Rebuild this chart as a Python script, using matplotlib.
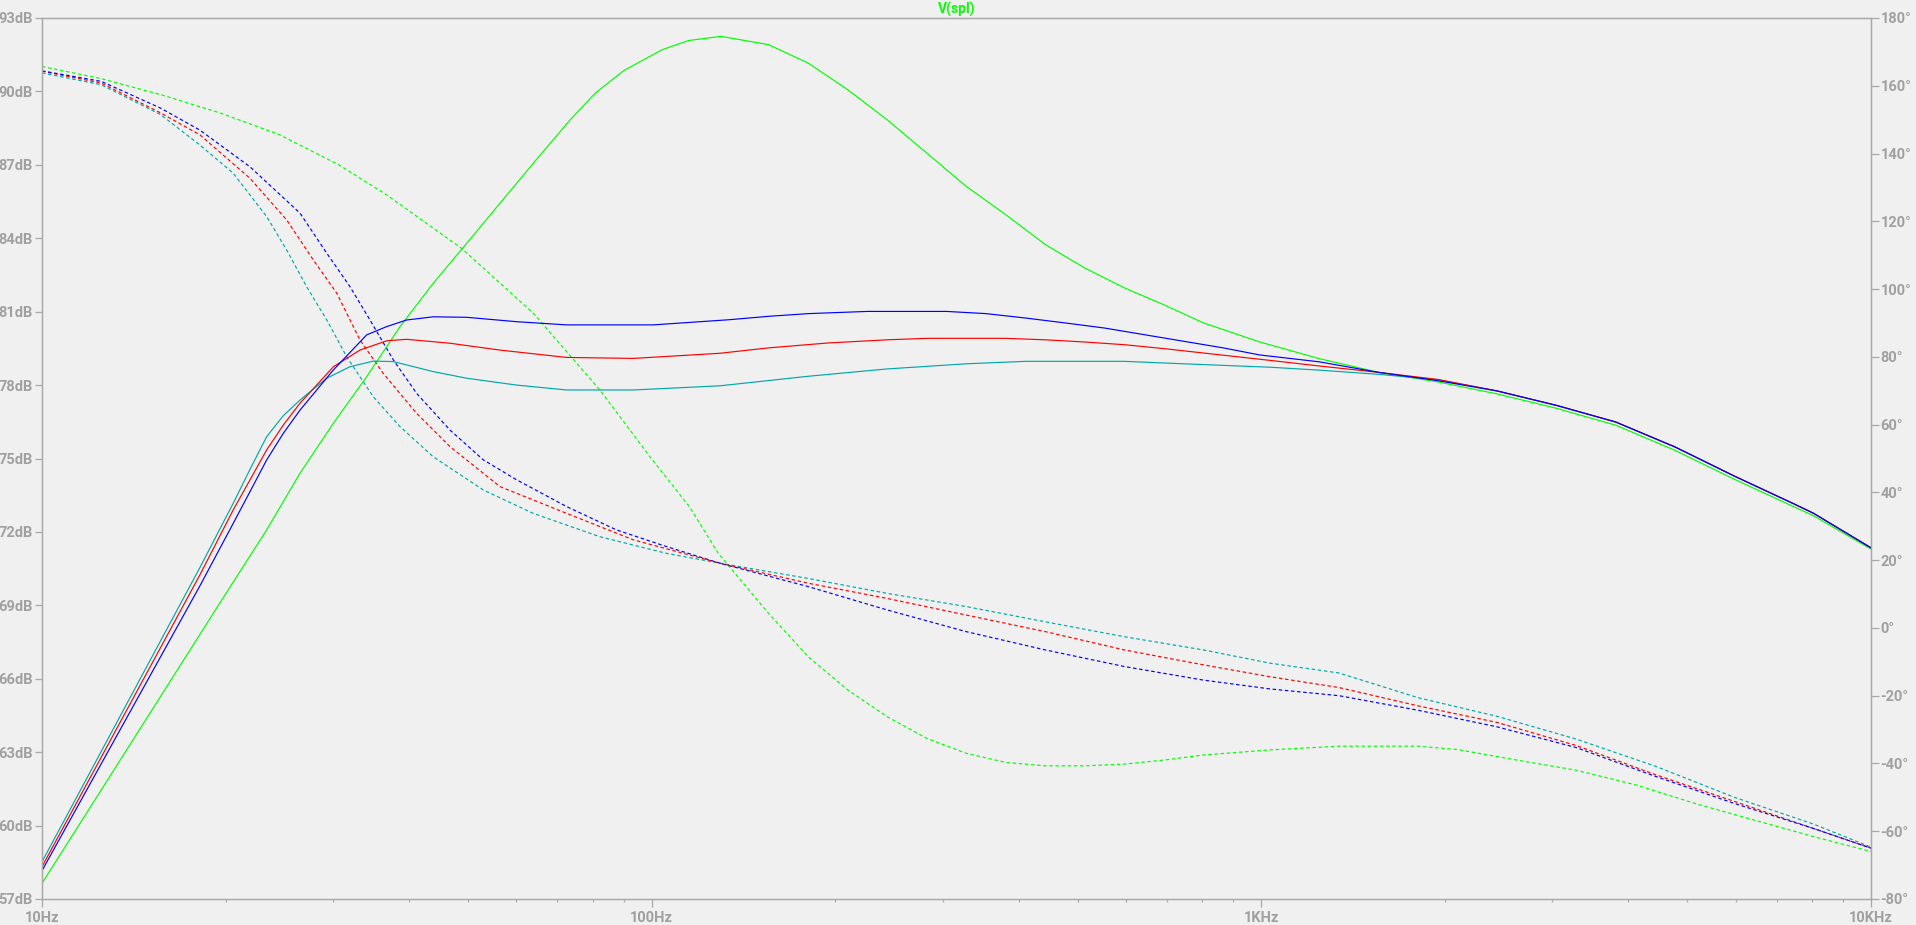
import matplotlib
matplotlib.use('Agg')
import matplotlib.pyplot as plt
from matplotlib.ticker import FixedLocator, NullFormatter, LogLocator

plt.rcParams['font.family'] = ['Roboto', 'DejaVu Sans']
plt.rcParams['font.weight'] = 'bold'

# ---------------- data ----------------
# magnitude traces (dB, left axis)
f_mag_green = [10, 19.72, 23.36, 26.50, 30.06, 34.08, 38.66, 43.83, 49.72, 56.39, 63.94, 73.45,
               80.91, 90.0, 103.96, 115.0, 130.0, 155.5, 180.6, 209.7, 243.4, 282.7, 328.1, 381,
               442.4, 513.6, 596.4, 692.3, 803.8, 994.7, 1245, 1557, 1948, 2437, 3049, 3814,
               4772, 5970, 7469, 8051, 10000]
mag_green = [57.64, 69.22, 72.08, 74.40, 76.44, 78.34, 80.39, 82.16, 83.79, 85.43, 87.06, 88.83,
             89.94, 90.85, 91.70, 92.08, 92.25, 91.91, 91.16, 90.07, 88.84, 87.48, 86.12, 84.96,
             83.74, 82.78, 81.97, 81.28, 80.54, 79.76, 79.08, 78.52, 78.13, 77.64, 77.05, 76.36,
             75.33, 74.15, 73.03, 72.66, 71.30]

f_mag_blue = [10, 18.16, 20.59, 21.93, 23.36, 24.88, 26.50, 30.06, 34.08, 36.76, 39.65, 43.83,
              49.72, 60.06, 72.54, 100.6, 133.9, 155.5, 180.6, 225.9, 304.6, 353.6, 410.5, 476.6,
              553.4, 642.7, 746, 866.1, 994.7, 1245, 1557, 1948, 2437, 3049, 3814, 4772, 5970,
              7469, 8051, 10000]
mag_blue = [58.16, 69.80, 72.35, 73.64, 74.94, 76.03, 76.98, 78.62, 80.05, 80.39, 80.66, 80.79,
            80.77, 80.59, 80.46, 80.46, 80.67, 80.81, 80.92, 81.01, 81.01, 80.92, 80.74, 80.54,
            80.33, 80.06, 79.79, 79.52, 79.23, 78.95, 78.52, 78.18, 77.76, 77.17, 76.49, 75.47,
            74.28, 73.15, 72.76, 71.35]

f_mag_red = [10, 18.16, 20.59, 21.93, 23.36, 24.88, 26.50, 30.06, 33.23, 36.76, 39.65, 46.69,
             56.39, 72.54, 93.29, 129.4, 155.5, 194.5, 243.4, 282.7, 381, 442.4, 513.6, 596.4,
             692.3, 803.8, 1033, 1245, 1557, 1948, 2437, 3049, 3814, 4772, 5970, 7469, 8051, 10000]
mag_red = [58.32, 70.25, 72.90, 74.12, 75.35, 76.37, 77.26, 78.75, 79.43, 79.81, 79.87, 79.71,
           79.43, 79.13, 79.09, 79.30, 79.52, 79.72, 79.85, 79.91, 79.91, 79.85, 79.76, 79.65,
           79.49, 79.31, 79.01, 78.78, 78.52, 78.23, 77.76, 77.17, 76.49, 75.47, 74.28, 73.15,
           72.76, 71.35]

f_mag_cyan = [10, 18.16, 20.59, 21.93, 23.36, 24.88, 26.50, 29.31, 32.00, 34.95, 37.69, 43.83,
              49.72, 60.06, 72.54, 93.29, 129.4, 180.6, 243.4, 328.1, 410.5, 596.4, 746, 1033,
              1245, 1557, 1948, 2437, 3049, 3814, 4772, 5970, 7469, 8051, 10000]
mag_cyan = [58.52, 70.55, 73.17, 74.55, 75.89, 76.75, 77.39, 78.28, 78.75, 78.98, 78.96, 78.55,
            78.28, 78.00, 77.80, 77.80, 77.97, 78.36, 78.66, 78.87, 78.97, 78.97, 78.87, 78.73,
            78.61, 78.44, 78.22, 77.76, 77.17, 76.49, 75.47, 74.28, 73.15, 72.76, 71.35]

# phase traces (degrees, right axis)
f_ph_green = [10, 12.51, 15.65, 19.58, 24.49, 30.66, 36.76, 48.79, 63.94, 82.26, 99.36, 115.3,
              128.6, 155.5, 180.6, 209.7, 243.4, 282.7, 328.1, 381, 442.4, 513.6, 596.4, 692.3,
              803.8, 1033, 1341, 1808, 2099, 2626, 3284, 4110, 5143, 6433, 8051, 10000]
ph_green = [165.7, 162.1, 157.4, 152.0, 145.6, 136.7, 127.8, 112.0, 92.9, 70.2, 50.5, 35.8,
            22.0, 4.3, -8.5, -18.3, -26.2, -32.6, -37.0, -39.7, -40.7, -40.7, -40.2, -39.0,
            -37.5, -36.0, -34.9, -34.9, -35.9, -39.0, -42.0, -46.3, -51.8, -56.7, -61.6, -66.0]

f_ph_blue = [10, 12.51, 15.65, 18.16, 21.93, 26.50, 29.31, 32.00, 34.51, 37.69, 41.17, 46.69,
             52.95, 60.06, 72.54, 87.63, 105.8, 129.4, 180.6, 243.4, 328.1, 442.4, 596.4, 803.8,
             1033, 1341, 1808, 2437, 3284, 4429, 5970, 8051, 10000]
ph_blue = [164.4, 161.3, 153.4, 146.9, 136.1, 122.4, 110.6, 100.7, 90.9, 79.1, 69.2, 58.4,
           49.6, 43.7, 35.8, 28.9, 24.0, 19.1, 12.2, 5.3, -1.1, -6.5, -11.4, -15.4,
           -18.0, -20.0, -24.3, -29.2, -35.3, -43.8, -51.8, -59.2, -65.0]

f_ph_red = [10, 12.51, 15.65, 18.16, 21.93, 25.20, 27.86, 30.44, 33.23, 36.29, 41.17, 46.69,
            56.39, 72.54, 93.29, 129.4, 180.6, 243.4, 328.1, 442.4, 596.4, 803.8, 1033, 1341,
            1808, 2437, 3284, 4429, 5970, 8051, 10000]
ph_red = [164.3, 160.8, 152.0, 145.5, 132.7, 120.4, 108.6, 98.8, 85.0, 75.1, 63.3, 53.5,
          41.7, 33.8, 26.0, 19.1, 13.2, 8.7, 3.8, -1.1, -6.5, -10.9, -14.4, -17.6,
          -23.0, -27.9, -34.7, -43.3, -51.2, -59.2, -65.0]

f_ph_cyan = [10, 12.51, 15.65, 18.16, 20.59, 23.36, 25.20, 27.17, 29.31, 31.61, 34.95, 38.66,
             43.83, 52.95, 63.94, 82.26, 105.8, 129.4, 180.6, 243.4, 328.1, 442.4, 596.4, 803.8,
             1033, 1341, 1808, 2437, 3284, 4429, 5970, 8051, 10000]
ph_cyan = [163.8, 160.3, 151.5, 142.5, 134.2, 121.4, 111.5, 100.7, 90.9, 80.0, 68.2, 59.4,
           50.5, 40.7, 33.8, 26.9, 22.0, 19.1, 14.6, 10.2, 6.3, 1.8, -2.6, -6.5,
           -10.4, -13.3, -20.6, -26.1, -32.8, -40.8, -50.0, -57.9, -64.7]

x_ticks = [10, 100, 1000, 10000]
x_labels = ['10Hz', '100Hz', '1KHz', '10KHz']
db_ticks = list(range(57, 94, 3))
deg_ticks = list(range(-80, 181, 20))
title = 'V(spl)'

# ---------------- style ----------------
BG = '#f0f0f0'
GRAY = '#a8a8a8'
TXT = '#a0a0a0'
C_GREEN = '#00ff00'
C_BLUE = '#0000ff'
C_RED = '#ff0000'
C_CYAN = '#00a8a8'
LW = 0.85
DASH = (0, (3, 2.2))
FS = 10.5

W, H = 1916, 925
fig = plt.figure(figsize=(W / 100, H / 100), dpi=100, facecolor=BG)
ax = fig.add_axes([42 / W, 26 / H, 1829 / W, 881 / H])
ax.set_xscale('log')
ax.set_xlim(10, 10000)
ax.set_ylim(57, 93)

ax2 = ax.twinx()
ax2.set_ylim(-80, 180)
ax2.set_facecolor(BG)

# phase (dashed)
ax2.plot(f_ph_green, ph_green, color=C_GREEN, lw=LW, ls=DASH)
ax2.plot(f_ph_cyan, ph_cyan, color=C_CYAN, lw=LW, ls=DASH)
ax2.plot(f_ph_red, ph_red, color=C_RED, lw=LW, ls=DASH)
ax2.plot(f_ph_blue, ph_blue, color=C_BLUE, lw=LW, ls=DASH)

# magnitude (solid)
ax.plot(f_mag_green, mag_green, color=C_GREEN, lw=LW)
ax.plot(f_mag_cyan, mag_cyan, color=C_CYAN, lw=LW)
ax.plot(f_mag_red, mag_red, color=C_RED, lw=LW)
ax.plot(f_mag_blue, mag_blue, color=C_BLUE, lw=LW)

# draw magnitude axes above the phase axes
ax.set_zorder(ax2.get_zorder() + 1)
ax.patch.set_visible(False)

for a in (ax, ax2):
    for s in a.spines.values():
        s.set_color(GRAY)
        s.set_linewidth(0.9)

ax.xaxis.set_major_locator(FixedLocator(x_ticks))
ax.set_xticklabels(x_labels)
ax.xaxis.set_minor_locator(LogLocator(base=10, subs=range(2, 10)))
ax.xaxis.set_minor_formatter(NullFormatter())
ax.set_yticks(db_ticks)
ax.set_yticklabels([f'{v}dB' for v in db_ticks])
ax2.set_yticks(deg_ticks)
ax2.set_yticklabels([f'{v}\u00b0' for v in deg_ticks])

ax.tick_params(axis='x', which='major', direction='out', length=6, width=0.9, color=GRAY,
               pad=3, labelsize=FS, labelcolor=TXT, top=False)
ax.tick_params(axis='x', which='minor', direction='out', length=2.5, width=0.9, color=GRAY, top=False)
ax.tick_params(axis='y', which='major', direction='out', length=5.2, width=0.9, color=GRAY,
               pad=1.5, labelsize=FS, labelcolor=TXT, right=False)
ax2.tick_params(axis='y', which='major', direction='out', length=5.8, width=0.9, color=GRAY,
                pad=1.0, labelsize=FS, labelcolor=TXT)

fig.text((42 + 1871) / 2 / W, 1 - 9 / H, title, color=C_GREEN, ha='center', va='center',
         fontsize=10, fontweight='bold')

fig.savefig('out.png', dpi=100, facecolor=BG)
